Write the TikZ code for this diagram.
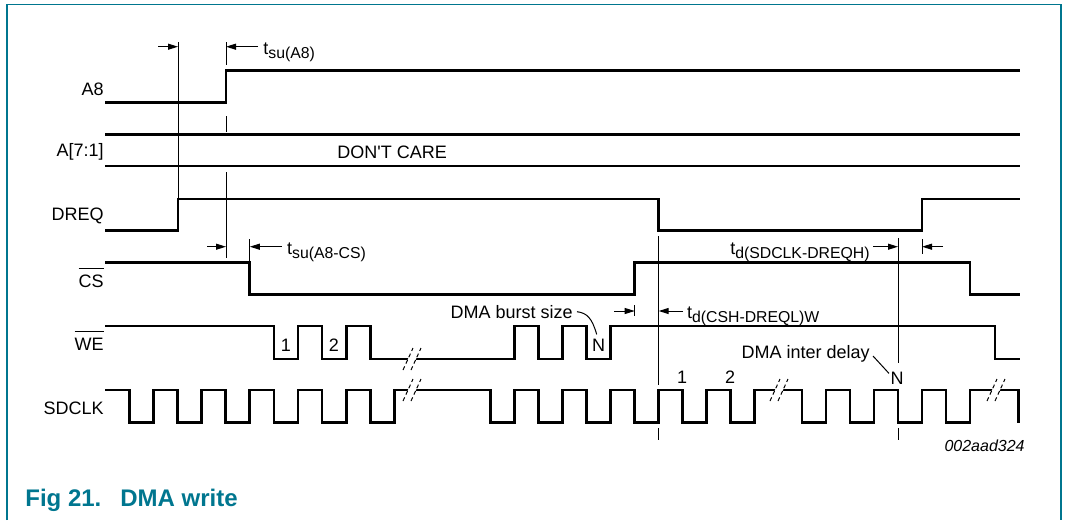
\documentclass[tikz,border=0pt]{standalone}
\usepackage{fontspec}
\newfontfamily\arialsub{Liberation Sans}
\usetikzlibrary{arrows.meta}
\definecolor{nxpteal}{RGB}{0,118,143}
\newcommand{\tsub}[1]{t\raisebox{-2pt}{\fontsize{7.9}{8}\selectfont #1}}
\newcommand{\ovl}[1]{\leavevmode\vbox{\hrule height 0.5pt\kern 3pt\hbox{#1}}}

\begin{document}
\begin{tikzpicture}[x=0.5pt,y=-0.5pt,
        sig/.style={line width=1.35pt},
        guide/.style={line width=0.5pt},
        dim/.style={line width=0.5pt,-{Triangle[length=5pt,width=3pt]}},
        lab/.style={font=\arialsub\fontsize{9}{11}\selectfont,inner sep=0pt},
        tlab/.style={font=\arialsub\fontsize{9}{10}\selectfont,inner sep=0pt},
        frame/.style={nxpteal,line width=0.7pt},
        brk/.pic={
            \fill[white] (-5.4,3) -- (2.6,3) -- (5.4,-3) -- (-2.6,-3) -- cycle;
            \draw[line width=0.5pt,dash pattern=on 2pt off 1.5pt] (-9,11) -- (1,-11) (-1,11) -- (9,-11);
        }]

        \useasboundingbox (0,0) rectangle (1065,520);
        \draw[frame] (7,520) -- (7,4.5) -- (1061,4.5) -- (1061,520);

        % signal names
        \node[lab,anchor=base east] (nA8) at (104,95.7) {A8};
        \node[lab,anchor=base east] (nA71) at (104,156.5) {A[7:1]};
        \node[lab,anchor=base east] (nDREQ) at (104,220) {DREQ};
        \node[lab,anchor=base east] (nCS) at (104,287.3) {\ovl{CS}};
        \node[lab,anchor=base east] (nWE) at (104,350.5) {\ovl{WE}};
        \node[lab,anchor=base east] (nSDCLK) at (104,414) {SDCLK};

        % A8, A[7:1]
        \draw[sig] (105,102.3) -- (226,102.3) -- (226,70.3) -- (1020,70.3);
        \draw[sig] (105,134.3) -- (1020,134.3) (105,166) -- (1020,166);
        \node[lab,anchor=base west] (dc) at (337,158.3) {DON'T CARE};

        % DREQ and CS
        \draw[sig] (105,230.7) -| (178,199) -| (658.7,230.7) -| (922,199) -- (1020,199);
        \draw[sig] (105,262.3) -| (249.8,294.3) -| (634.7,262.3) -| (970,294.3) -- (1020,294.3);

        % WE
        \draw[sig] (105,326) -| (273.9,359) -| (298,326) -| (322.1,359) -| (346.2,326) -| (370.3,359)
            -| (514.7,326) -| (538.7,359) -| (562.7,326) -| (586.7,359) -| (610.7,326)
            -| (995,359) -- (1020,359);
        \node[lab] (we1) at (286,345) {1};
        \node[lab] (we2) at (334,345) {2};
        \node[lab] (weN) at (598.7,345) {N};

        % SDCLK
        \draw[sig] (105,390)
            foreach \x in {129.3,177.5,225.7,273.9,322.1,370.3} {-| (\x,422.7) -| (\x+24.1,390)}
            foreach \x in {490.7,538.7,586.7,634.7,682.7,730.7,802,850,898,946} {-| (\x,422.7) -| (\x+24,390)}
            -| (1018.3,422.7);
        \node[lab] (ck1) at (682,377) {1};
        \node[lab] (ck2) at (730,377) {2};
        \node[lab] (ckN) at (897,378) {N};

        % breaks
        \pic at (412,359) {brk};
        \pic at (412,390) {brk};
        \pic at (779,390) {brk};
        \pic at (996,390) {brk};

        % reference lines
        \draw[guide] (178,42) -- (178,199);
        \draw[guide] (226,42) -- (226,65) (226,116) -- (226,132) (226,172) -- (226,258);
        \draw[guide] (249.8,239) -- (249.8,262.3);
        \draw[guide] (634.7,305) -- (634.7,316);
        \draw[guide] (658.7,236) -- (658.7,385) (658.7,428) -- (658.7,440);
        \draw[guide] (898,238) -- (898,363) (898,428) -- (898,440);
        \draw[guide] (922,239) -- (922,254);

        % timing
        \draw[dim] (158,46.7) -- (178,46.7);
        \draw[dim] (258,46.7) -- (226,46.7);
        \node[tlab,anchor=base west] (tA8) at (263,54.3) {\tsub{su(A8)}};
        \draw[dim] (207,246.7) -- (226,246.7);
        \draw[dim] (281.7,246.7) -- (249.8,246.7);
        \node[tlab,anchor=base west] (tA8CS) at (286.7,254.3) {\tsub{su(A8-CS)}};
        \draw[dim] (614,311) -- (634.7,311);
        \draw[dim] (683,311) -- (658.7,311);
        \node[tlab,anchor=base west] (tCSH) at (686.7,318.6) {\tsub{d(CSH-DREQL)W}};
        \draw[dim] (873,246.7) -- (898,246.7);
        \draw[dim] (943,246.7) -- (922,246.7);
        \node[tlab,anchor=base east] (tSDH) at (870,254.3) {\tsub{d(SDCLK-DREQH)}};

        % notes
        \node[lab,anchor=east] (burst) at (573,311.7) {DMA burst size};
        \draw[guide] ([xshift=2pt]burst.east) .. controls (587,313) and (592,318) .. ([shift={(-1pt,2pt)}]weN.north);
        \node[lab,anchor=base east] (inter) at (870,358) {DMA inter delay};
        \draw[guide] ([shift={(1.5pt,1pt)}]inter.base east) -- ([shift={(-4pt,-1pt)}]ckN.north);
        \node[font=\arialsub\itshape\fontsize{8}{10}\selectfont,inner sep=0pt,anchor=east] (code) at (1025,446) {002aad324};

        % caption
        \node[font=\arialsub\bfseries\fontsize{12}{14}\selectfont,text=nxpteal,inner sep=0pt,anchor=base west] (fignum) at (25,506.7) {Fig 21.};
        \node[font=\arialsub\bfseries\fontsize{12}{14}\selectfont,text=nxpteal,inner sep=0pt,anchor=base west] (figtitle) at (120,506.7) {DMA write};
    \end{tikzpicture}
\end{document}
